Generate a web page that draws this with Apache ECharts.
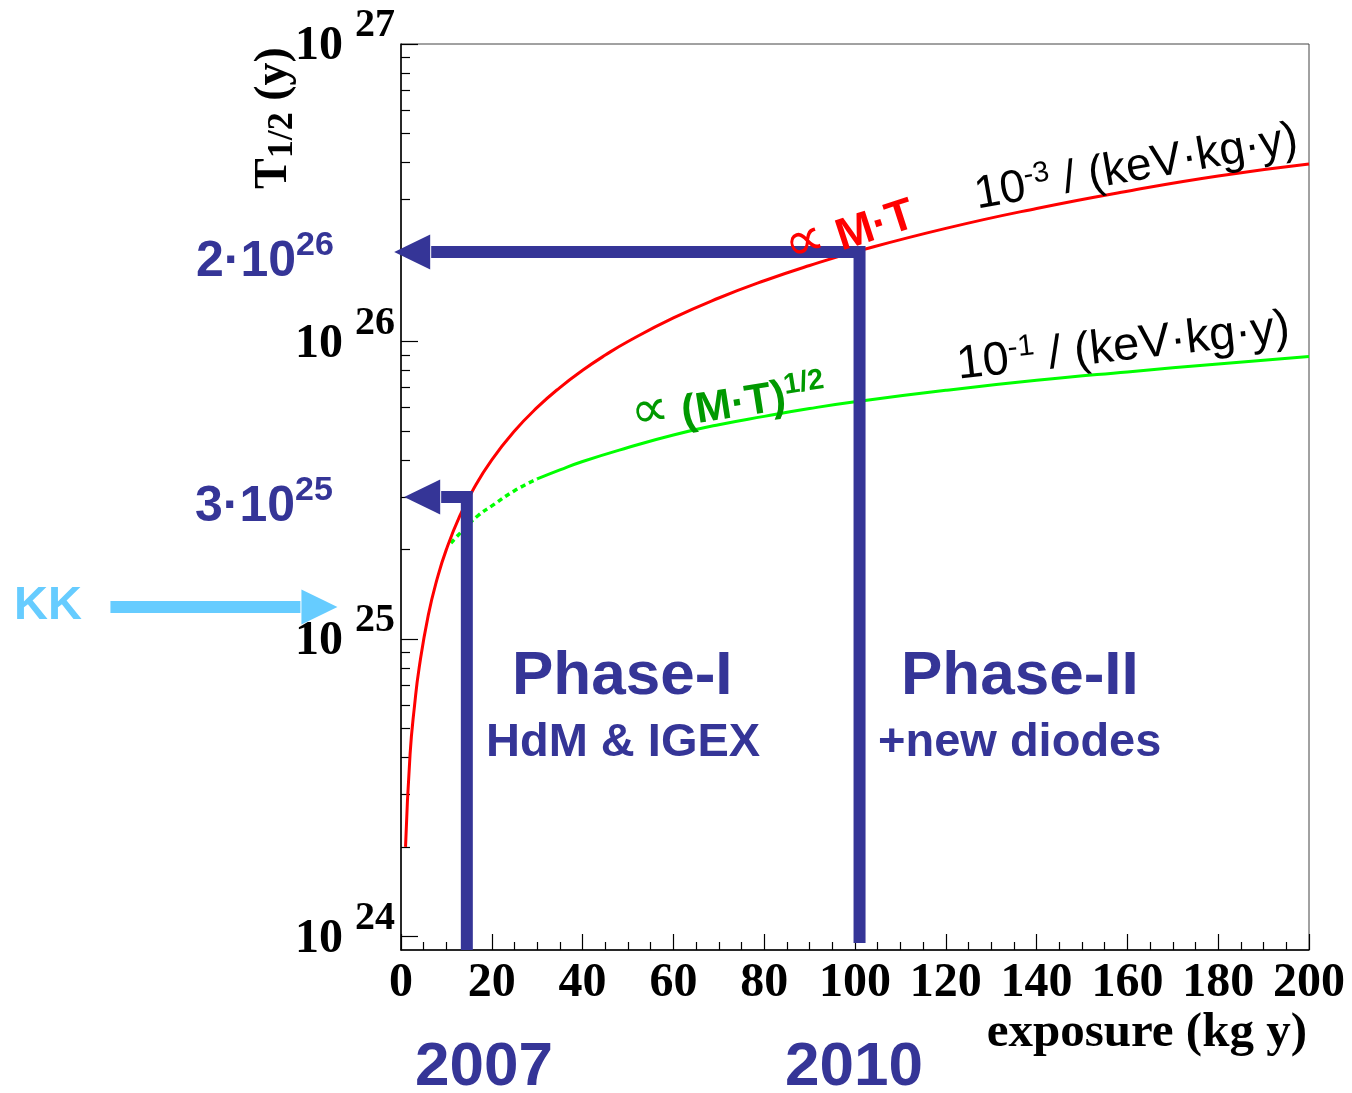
<!DOCTYPE html>
<html>
<head>
<meta charset="utf-8">
<script src="https://cdn.jsdelivr.net/npm/echarts@6/dist/echarts.min.js"></script>
<style>
  html, body { margin: 0; padding: 0; background: #fff; }
  #chart { width: 1352px; height: 1093px; }
</style>
</head>
<body>
<div id="chart"></div>
<script>
// Axis ticks
const xTickValues = [0, 20, 40, 60, 80, 100, 120, 140, 160, 180, 200];
const yMajorTicks = [1e24, 1e25, 1e26, 1e27];
const yMinorTicks = [
  2e24, 3e24, 4e24, 5e24, 6e24, 7e24, 8e24, 9e24,
  2e25, 3e25, 4e25, 5e25, 6e25, 7e25, 8e25, 9e25,
  2e26, 3e26, 4e26, 5e26, 6e26, 7e26, 8e26, 9e26
];

// Sensitivity for background 10^-3 / (keV kg y)
const redExposure = [1, 2, 3, 4, 6, 8, 10, 13, 16, 20, 25, 30, 35, 40, 45, 50, 60, 70, 80, 90, 100, 120, 140, 160, 180, 200];
const redHalfLife = [2.0e24, 4.1e24, 6.0e24, 8.0e24, 1.2e25, 1.6e25, 2.0e25, 2.6e25, 3.2e25, 4.0e25, 5.0e25, 6.0e25,
                     7.0e25, 8.0e25, 9.0e25, 1.0e26, 1.2e26, 1.4e26, 1.6e26, 1.8e26, 2.0e26, 2.4e26, 2.8e26, 3.2e26, 3.6e26, 3.95e26];

// Sensitivity for background 10^-1 / (keV kg y): dotted start, then solid
const greenDotExposure = [11, 14, 17, 20, 25, 30];
const greenDotHalfLife = [2.1e25, 2.35e25, 2.6e25, 2.8e25, 3.15e25, 3.45e25];
const greenExposure = [30, 35, 40, 50, 60, 70, 80, 90, 100, 120, 140, 160, 180, 200];
const greenHalfLife = [3.45e25, 3.7e25, 3.95e25, 4.4e25, 4.85e25, 5.25e25, 5.6e25, 5.95e25, 6.27e25, 6.85e25, 7.4e25, 7.9e25, 8.4e25, 8.9e25];

// Phase goals: exposure of the vertical bar, bar foot, half-life reached, arrow tip exposure
const goalExposure = [14.5, 101];
const goalFoot = [9e23, 9.5e23];
const goalHalfLife = [3e25, 2e26];
const goalArrowTip = [0.7, -1.5];

// KK claim arrow: start exposure, half-life level, tip exposure
const kkArrow = [-64, 1.28e25, -14];

const BLUE = '#353597';
const SERIF = 'Liberation Serif';
const SANS = 'Liberation Sans';
const Y_MIN = 9e23, Y_MAX = 1e27;

const zip = (a, b) => a.map((v, i) => [v, b[i]]);
// keep the top decade inside the axis extent despite rounding
const inExtent = (vals) => vals.map(v => (v >= Y_MAX ? Y_MAX * 0.99999 : v));

const chart = echarts.init(document.getElementById('chart'));

function arrowShapes(pFoot, pCorner, pTip, color, w) {
  const head = 36, half = 17.5;
  const dir = pTip[0] < pCorner[0] ? 1 : -1;
  const baseX = pTip[0] + dir * head;
  const pts = [];
  if (pFoot) pts.push(pFoot);
  pts.push(pCorner);
  pts.push([baseX + dir * 1, pTip[1]]);
  return [
    { type: 'polyline', shape: { points: pts },
      style: { stroke: color, lineWidth: w, fill: null, lineJoin: 'miter', lineCap: 'butt' } },
    { type: 'polygon', shape: { points: [[pTip[0], pTip[1]], [baseX, pTip[1] - half], [baseX, pTip[1] + half]] },
      style: { fill: color } }
  ];
}

const option = {
  animation: false,
  backgroundColor: '#fff',
  grid: { left: 401, right: 43, top: 44, bottom: 143, show: true, borderColor: '#444', borderWidth: 1 },
  xAxis: {
    type: 'value', min: 0, max: 200, interval: 20,
    axisLine: { onZero: false, lineStyle: { color: '#000', width: 1.5 } },
    axisTick: { inside: true, length: 16, lineStyle: { color: '#000', width: 1.2 } },
    minorTick: { show: true, splitNumber: 4, length: 8, lineStyle: { color: '#000', width: 1.2 } },
    splitLine: { show: false },
    axisLabel: { margin: 10, fontFamily: SERIF, fontWeight: 'bold', fontSize: 48, color: '#000',
                 customValues: xTickValues, showMinLabel: true, showMaxLabel: true }
  },
  yAxis: [
    {
      type: 'log', logBase: 10, min: Y_MIN, max: Y_MAX,
      axisLine: { show: true, lineStyle: { color: '#000', width: 1.5 } },
      axisTick: { inside: true, length: 17, customValues: inExtent(yMajorTicks), lineStyle: { color: '#000', width: 1.2 } },
      splitLine: { show: false },
      axisLabel: {
        customValues: inExtent(yMajorTicks),
        showMinLabel: true, showMaxLabel: true,
        margin: 6,
        padding: [6, 0, 0, 0],
        formatter: function (v) {
          const e = Math.round(Math.log10(v));
          return '{b|10 }{s|' + e + '}';
        },
        rich: {
          b: { fontFamily: SERIF, fontWeight: 'bold', fontSize: 48, lineHeight: 48, color: '#000', verticalAlign: 'bottom' },
          s: { fontFamily: SERIF, fontWeight: 'bold', fontSize: 40, lineHeight: 40, color: '#000', verticalAlign: 'bottom',
               padding: [0, 0, 25, 0] }
        }
      }
    },
    {
      type: 'log', logBase: 10, min: Y_MIN, max: Y_MAX, position: 'left',
      axisLine: { show: false },
      axisTick: { inside: true, length: 9, customValues: yMinorTicks, lineStyle: { color: '#000', width: 1.2 } },
      axisLabel: { show: false },
      splitLine: { show: false }
    }
  ],
  series: [
    {
      name: '1e-3', type: 'line', data: zip(redExposure, redHalfLife), showSymbol: false, symbol: 'none',
      smooth: 0.5, lineStyle: { color: '#ff0000', width: 3 }, z: 3
    },
    {
      name: '1e-1 dotted', type: 'line', data: zip(greenDotExposure, greenDotHalfLife), showSymbol: false, symbol: 'none',
      smooth: 0.5, lineStyle: { color: '#00ff00', width: 3.5, type: [5, 4] }, z: 2
    },
    {
      name: '1e-1', type: 'line', data: zip(greenExposure, greenHalfLife), showSymbol: false, symbol: 'none',
      smooth: 0.5, lineStyle: { color: '#00ff00', width: 3 }, z: 2
    },
    {
      name: 'goals', type: 'custom', clip: false, z: 5,
      data: goalExposure.map((x, i) => [x, goalFoot[i], goalHalfLife[i], goalArrowTip[i]]),
      renderItem: function (params, api) {
        const x = api.value(0), foot = api.value(1), hl = api.value(2), tip = api.value(3);
        const pFoot = api.coord([x, foot]);
        const pCorner = api.coord([x, hl]);
        const pTip = api.coord([tip, hl]);
        return { type: 'group', children: arrowShapes(pFoot, pCorner, pTip, BLUE, 12) };
      }
    },
    {
      name: 'KK', type: 'custom', clip: false, z: 5,
      data: [kkArrow],
      renderItem: function (params, api) {
        const pStart = api.coord([api.value(0), api.value(1)]);
        const pTip = api.coord([api.value(2), api.value(1)]);
        return { type: 'group', children: arrowShapes(null, pStart, pTip, '#66ccff', 12) };
      }
    }
  ]
};
chart.setOption(option);

// Annotation texts
const toPx = (x, y) => chart.convertToPixel({ xAxisIndex: 0, yAxisIndex: 0 }, [x, y]);
const yGoal2 = toPx(0, goalHalfLife[1])[1];
const yGoal1 = toPx(0, goalHalfLife[0])[1];

function sansText(text, x, y, size, color, extra) {
  return Object.assign({
    type: 'text', x: x, y: y, z: 10,
    style: { text: text, fill: color, fontFamily: SANS, fontWeight: 'bold', fontSize: size, align: 'left', verticalAlign: 'middle' }
  }, extra || {});
}

const blueRich = {
  a: { fontFamily: SANS, fontWeight: 'bold', fontSize: 50, lineHeight: 50, fill: BLUE, verticalAlign: 'bottom' },
  s: { fontFamily: SANS, fontWeight: 'bold', fontSize: 34, lineHeight: 34, fill: BLUE, verticalAlign: 'bottom', padding: [0, 0, 24, 0] }
};

const labelRich = (size, sup, prop, color, weight) => ({
  n: { fontFamily: SANS, fontWeight: weight, fontSize: size, lineHeight: size, fill: color, verticalAlign: 'bottom' },
  s: { fontFamily: SANS, fontWeight: weight, fontSize: sup, lineHeight: sup, fill: color, verticalAlign: 'bottom', padding: [0, 0, size * 0.42, 0] },
  p: { fontFamily: 'DejaVu Sans', fontWeight: 'normal', fontSize: prop, lineHeight: prop, fill: color, verticalAlign: 'bottom', padding: [0, 0, 0, 0] }
});

chart.setOption({
  graphic: [
    // y-axis title
    {
      type: 'text', x: 274, y: 118, rotation: Math.PI / 2, z: 10,
      style: {
        text: '{t|T}{u|1/2}{t| (y)}', align: 'center', verticalAlign: 'middle',
        rich: {
          t: { fontFamily: SERIF, fontWeight: 'bold', fontSize: 46, lineHeight: 46, fill: '#000', verticalAlign: 'top' },
          u: { fontFamily: SERIF, fontWeight: 'bold', fontSize: 36, lineHeight: 36, fill: '#000', verticalAlign: 'top', padding: [14, 0, 0, 0] }
        }
      }
    },
    // x-axis title
    {
      type: 'text', x: 1307, y: 1033, z: 10,
      style: { text: 'exposure (kg y)', fill: '#000', fontFamily: SERIF, fontWeight: 'bold', fontSize: 49, align: 'right', verticalAlign: 'middle' }
    },
    // goal values
    {
      type: 'text', x: 196, y: yGoal2 + 10, z: 10,
      style: { text: '{a|2·10}{s|26}', align: 'left', verticalAlign: 'middle', rich: blueRich }
    },
    {
      type: 'text', x: 195, y: yGoal1 + 10, z: 10,
      style: { text: '{a|3·10}{s|25}', align: 'left', verticalAlign: 'middle', rich: blueRich }
    },
    sansText('KK', 14, 606, 47, '#66ccff'),
    sansText('Phase-I', 512, 677, 62, BLUE),
    sansText('HdM & IGEX', 486, 743, 47, BLUE),
    sansText('Phase-II', 901, 677, 62, BLUE),
    sansText('+new diodes', 878, 743, 47, BLUE),
    sansText('2007', 415, 1068, 62, BLUE),
    sansText('2010', 785, 1068, 62, BLUE),
    // background labels along the curves
    {
      type: 'text', x: 975, y: 196, rotation: 10 * Math.PI / 180, z: 10,
      style: { text: '{n|10}{s|-3}{n| / (keV·kg·y)}', align: 'left', verticalAlign: 'middle', rich: labelRich(46, 29, 46, '#000', 'normal') }
    },
    {
      type: 'text', x: 957, y: 366, rotation: 6.5 * Math.PI / 180, z: 10,
      style: { text: '{n|10}{s|-1}{n| / (keV·kg·y)}', align: 'left', verticalAlign: 'middle', rich: labelRich(47, 30, 47, '#000', 'normal') }
    },
    {
      type: 'text', x: 786, y: 250, rotation: 18 * Math.PI / 180, z: 10,
      style: { text: '{p|∝}{n| M·T}', align: 'left', verticalAlign: 'middle', rich: labelRich(45, 30, 56, '#ff0000', 'bold') }
    },
    {
      type: 'text', x: 631, y: 416, rotation: 9 * Math.PI / 180, z: 10,
      style: { text: '{p|∝}{n| (M·T)}{s|1/2}', align: 'left', verticalAlign: 'middle', rich: labelRich(43, 29, 54, '#009900', 'bold') }
    }
  ]
});
</script>
</body>
</html>
